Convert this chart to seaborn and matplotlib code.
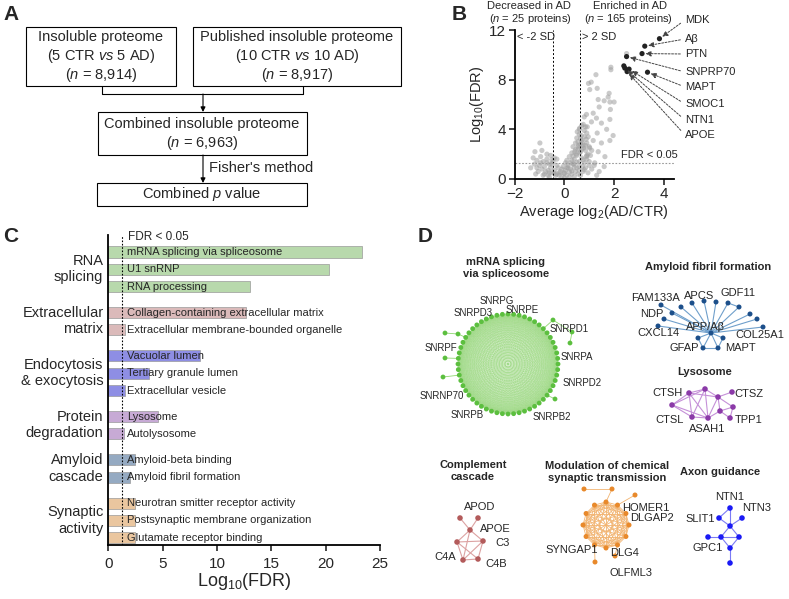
import itertools

import numpy as np
import pandas as pd
import seaborn as sns
from matplotlib import pyplot as plt
from matplotlib.collections import LineCollection
from matplotlib.patches import Rectangle

sns.set_style("white")
plt.rcParams["font.family"] = ["Liberation Sans", "DejaVu Sans"]
plt.rcParams["mathtext.fontset"] = "custom"
plt.rcParams["mathtext.rm"] = "Liberation Sans"
plt.rcParams["mathtext.it"] = "Liberation Sans:italic"
plt.rcParams["mathtext.bf"] = "Liberation Sans:bold"

# ---- B: volcano ----
gray_x = [-1.18, -0.98, -1.25, -1.10, -0.95, -0.85, -1.20, -1.00, -0.80, -0.70, -0.60, -0.90,
          -0.75, -0.55, -0.50, -0.65, -0.40, -0.35, -1.05, -0.85, -0.60, -0.45, -0.30, -0.20,
          -0.25, -1.35, -0.70, -0.55, -0.40, -0.95, -0.65, -0.30, -1.10, -0.50,
          -0.10, 0.00, 0.10, 0.20, 0.30, -0.15, 0.05, 0.25, 0.40, 0.45, -0.05, 0.15, 0.35,
          0.50, 0.55, 0.65, 0.75, 0.85, 0.95, 1.10, 1.20, 1.40, 1.60, 1.30, 0.00, 0.30, 0.60,
          0.10, 0.20, 0.30, 0.40, 0.50, 0.60, 0.70, 0.80, 0.90, 1.00, 0.35, 0.45, 0.55, 0.65,
          0.75, 0.85, 0.95, 1.05, 0.50, 0.60, 0.70, 0.80, 0.90, 1.00, 0.60, 0.70, 0.80, 0.90,
          0.65, 0.55, 0.42, 0.25, 0.15, 0.72, 1.10, 0.85, 0.48, 0.58, 0.68, 0.78, 0.38, 0.88,
          -0.80, -0.60, -0.40, -0.20, 0.00, 0.20, 0.40, 0.60, 0.80, 1.00, -0.70, -0.50, -0.30,
          -0.10, 0.10, 0.30, 0.50, 0.70, 0.90, -0.90, -1.15, 0.05, 0.35, 0.55, 0.75, 0.45,
          0.65, 0.85, 0.52, 0.62, 0.72,
          1.27, 0.97, 1.08, 1.32, 1.02, 1.80, 1.76, 1.36, 1.60, 1.83, 2.00, 1.40, 1.85, 1.16,
          0.89, 0.80, 1.29, 1.09, 1.49, 1.83, 1.70, 1.96, 1.32, 0.92, 0.76, 0.62, 0.96, 1.16,
          1.49, 1.83, 1.02, 1.36, 1.63, 0.89, 1.22, 1.87, 1.87, 2.50]
gray_y = [2.2, 2.9, 1.7, 1.5, 1.8, 1.4, 1.2, 1.1, 1.0, 1.6, 1.2, 0.8,
          0.6, 0.9, 0.5, 0.3, 0.7, 0.3, 0.6, 0.3, 0.15, 1.4, 1.1, 0.5,
          0.9, 0.9, 2.0, 1.9, 1.7, 1.3, 0.7, 0.4, 0.9, 1.2,
          0.2, 0.1, 0.3, 0.15, 0.4, 0.6, 0.7, 0.8, 0.2, 0.6, 1.0, 1.1, 1.2,
          0.9, 0.4, 0.3, 0.6, 0.9, 0.5, 0.8, 1.1, 0.6, 1.0, 0.3, 0.45, 0.65, 0.7,
          1.5, 1.8, 2.1, 1.6, 1.9, 1.4, 1.7, 1.3, 1.6, 1.4, 2.6, 2.9, 2.4, 2.2,
          2.7, 2.3, 2.0, 1.9, 3.3, 3.6, 3.1, 3.4, 2.9, 2.6, 4.0, 4.3, 3.9, 3.7,
          2.8, 3.0, 2.2, 1.3, 0.9, 1.0, 2.3, 4.2, 2.0, 2.7, 3.5, 2.5, 1.2, 3.2,
          0.4, 0.5, 0.45, 0.3, 0.5, 0.55, 0.95, 1.0, 0.75, 1.1, 1.3, 1.55, 1.6,
          0.8, 0.9, 1.5, 1.35, 2.4, 1.9, 2.3, 0.4, 1.3, 1.85, 2.6, 1.55, 2.35,
          3.25, 2.7, 3.8, 2.1, 2.95,
          8.4, 7.7, 7.8, 7.3, 7.2, 6.9, 6.6, 6.4, 6.3, 6.2, 6.2, 5.8, 5.6, 5.3,
          5.2, 5.0, 4.9, 4.6, 4.5, 4.8, 4.0, 3.5, 3.7, 4.2, 4.4, 4.1, 3.4, 3.1,
          2.9, 3.1, 2.5, 2.2, 1.8, 1.8, 1.3, 9.0, 8.8, 10.1]
hit_names = ["MDK", "Aβ", "PTN", "SNPRP70", "MAPT", "SMOC1", "NTN1", "APOE"]
hit_x = [3.82, 3.23, 3.12, 2.50, 3.34, 2.60, 2.43, 2.52]
hit_y = [11.3, 10.7, 10.1, 9.86, 8.6, 8.85, 8.93, 8.65]
other_dark_x = [2.39]
other_dark_y = [9.11]
hit_label_px = [20, 39, 54, 72, 87, 104, 120, 135]

# ---- C: enrichment ----
go_terms = ["mRNA splicing via spliceosome", "U1 snRNP", "RNA processing",
            "Collagen-containing extracellular matrix", "Extracellular membrane-bounded organelle",
            "Vacuolar lumen", "Tertiary granule lumen", "Extracellular vesicle",
            "Lysosome", "Autolysosome",
            "Amyloid-beta binding", "Amyloid fibril formation",
            "Neurotran smitter receptor activity", "Postsynaptic membrane organization",
            "Glutamate receptor binding"]
go_fdr = [23.3, 20.3, 13.0, 12.7, 1.55, 8.4, 3.75, 1.55, 4.6, 1.4, 2.45, 2.0, 2.45, 2.45, 2.45]
go_group = (["RNA\nsplicing"] * 3 + ["Extracellular\nmatrix"] * 2
            + ["Endocytosis\n& exocytosis"] * 3 + ["Protein\ndegradation"] * 2
            + ["Amyloid\ncascade"] * 2 + ["Synaptic\nactivity"] * 3)
group_colors = {"RNA\nsplicing": "#b5e0a5", "Extracellular\nmatrix": "#e0b5b5",
                "Endocytosis\n& exocytosis": "#8080f2", "Protein\ndegradation": "#c9a3dc",
                "Amyloid\ncascade": "#8da9c9", "Synaptic\nactivity": "#f6c793"}

# ---- D: networks (node positions, pixel units) ----
amy_x = [711, 661, 672, 664, 658, 681, 692, 704, 716, 728, 739, 750, 757, 763, 698, 703, 718, 723]
amy_y = [333, 305, 313, 319, 326, 307, 303, 301, 302, 303, 307, 314, 319, 327, 338, 348, 348, 338]
amy_edges = [(0, i) for i in range(1, 18)] + [(9, 10), (14, 15), (15, 16), (16, 17)]
lyso_x = [689, 705, 718, 732, 672, 692, 708, 720, 730, 733]
lyso_y = [393, 389, 397, 392, 405, 417, 418, 411, 418, 407]
lyso_edges = [(0, 1), (0, 4), (0, 5), (0, 2), (0, 6), (1, 2), (1, 5), (1, 6), (1, 4), (2, 7),
              (2, 6), (2, 3), (4, 5), (4, 6), (5, 6), (6, 7), (7, 8), (7, 9), (9, 8), (2, 9)]
comp_x = [460, 478, 470, 457, 483, 463, 478]
comp_y = [518, 518, 530, 542, 541, 560, 559]
comp_edges = [(0, 2), (1, 2), (2, 3), (2, 4), (2, 5), (3, 4), (3, 5), (3, 6), (4, 5), (4, 6), (5, 6)]
axon_x = [730, 742, 719, 730, 708, 721, 739, 730, 730]
axon_y = [508, 518, 518, 526, 537, 537, 537, 548, 563]
axon_edges = [(0, 3), (1, 3), (2, 0), (2, 3), (3, 5), (3, 6), (4, 5), (5, 6), (5, 7), (6, 7), (7, 8)]
green_pend_x = [553, 572, 570, 445, 458, 445, 443, 555]
green_pend_y = [320, 332, 343, 333, 334, 358, 377, 399]
green_pend_to = [-1, 0, 1, 4, -1, -1, -1, -1]
orange_pend_x = [584, 612, 635, 595, 615]
orange_pend_y = [489, 489, 495, 562, 556]
orange_pend_to = [1, -1, -1, -1, -1]

d_labels = [("SNRPG", 497, 301, 7), ("SNRPE", 522, 310, 7), ("SNRPD3", 473, 313, 7),
            ("SNRPD1", 569, 329, 7), ("SNRPF", 441, 348, 7), ("SNRPA", 577, 357, 7),
            ("SNRPD2", 582, 383, 7), ("SNRNP70", 442, 396, 7), ("SNRPB", 467, 415, 7),
            ("SNRPB2", 552, 417, 7),
            ("FAM133A", 656, 298, 8), ("APCS", 699, 296, 8), ("GDF11", 738, 293, 8),
            ("NDP", 652, 314, 8), ("CXCL14", 658, 333, 8), ("APP/Aβ", 705, 327, 8),
            ("COL25A1", 760, 335, 8), ("GFAP", 684, 348, 8), ("MAPT", 740, 348, 8),
            ("CTSH", 668, 393, 8), ("CTSZ", 749, 394, 8), ("CTSL", 670, 420, 8),
            ("ASAH1", 707, 429, 8), ("TPP1", 749, 420, 8),
            ("APOD", 480, 507, 8), ("APOE", 495, 529, 8), ("C3", 503, 543, 8),
            ("C4A", 445, 557, 8), ("C4B", 496, 564, 8),
            ("HOMER1", 646, 508, 8), ("DLGAP2", 652, 518, 8), ("DLG4", 625, 553, 8),
            ("OLFML3", 631, 573, 8), ("SYNGAP1", 572, 550, 8),
            ("NTN1", 730, 497, 8), ("NTN3", 757, 508, 8), ("SLIT1", 700, 519, 8),
            ("GPC1", 708, 548, 8)]
d_titles = [("mRNA splicing\nvia spliceosome", 506, 268), ("Amyloid fibril formation", 708, 267),
            ("Lysosome", 705, 372), ("Complement\ncascade", 473, 471),
            ("Modulation of chemical\nsynaptic transmission", 607, 472), ("Axon guidance", 720, 472)]


def draw_edges(ax, xs, ys, edges, color, lw, alpha=1.0):
    segs = [[(xs[a], ys[a]), (xs[b], ys[b])] for a, b in edges]
    ax.add_collection(LineCollection(segs, colors=color, linewidths=lw, alpha=alpha, zorder=2))


def draw_net(ax, xs, ys, edges, node_color, edge_color, s=13, lw=0.8, alpha=1.0):
    draw_edges(ax, xs, ys, edges, edge_color, lw, alpha)
    sns.scatterplot(x=xs, y=ys, color=node_color, s=s, edgecolor="none", ax=ax, zorder=3, legend=False)


def ring_with_pendants(cx, cy, r, n, px, py, to):
    ang = np.linspace(0, 2 * np.pi, n, endpoint=False)
    xs = list(cx + r * np.cos(ang))
    ys = list(cy + r * np.sin(ang))
    ring = list(itertools.combinations(range(n), 2))
    pend = []
    for i, (x, y) in enumerate(zip(px, py)):
        if to[i] < 0:
            d = [(x - a) ** 2 + (y - b) ** 2 for a, b in zip(xs[:n], ys[:n])]
            pend.append((n + i, int(np.argmin(d))))
        else:
            pend.append((n + i, n + to[i]))
    return xs + list(px), ys + list(py), ring, pend


fig = plt.figure(figsize=(7.89, 5.99), dpi=100)
ov = fig.add_axes([0, 0, 1, 1])
ov.axis("off")

# ---- panel A: flow chart ----
for x0, y0, x1, y1 in [(26, 27, 176, 86), (193, 27, 401, 86), (98, 112, 307, 155), (97, 183, 307, 206)]:
    ov.add_patch(Rectangle((x0, y0), x1 - x0, y1 - y0, fill=False, edgecolor="black", linewidth=0.8))
fs_a = 10.5
ov.text(101, 37, "Insoluble proteome", ha="center", va="center", fontsize=fs_a)
ov.text(101, 56, "(5 CTR $\\mathit{vs}$ 5 AD)", ha="center", va="center", fontsize=fs_a)
ov.text(101, 75, "($\\mathit{n}$ = 8,914)", ha="center", va="center", fontsize=fs_a)
ov.text(297, 37, "Published insoluble proteome", ha="center", va="center", fontsize=fs_a)
ov.text(297, 56, "(10 CTR $\\mathit{vs}$ 10 AD)", ha="center", va="center", fontsize=fs_a)
ov.text(297, 75, "($\\mathit{n}$ = 8,917)", ha="center", va="center", fontsize=fs_a)
ov.plot([102, 102, 303, 303], [86, 94, 94, 86], color="black", lw=0.8)
ov.annotate("", xy=(203, 112), xytext=(203, 94),
            arrowprops=dict(arrowstyle="-|>", lw=0.8, color="black", mutation_scale=7, shrinkA=0, shrinkB=0))
ov.text(202, 124, "Combined insoluble proteome", ha="center", va="center", fontsize=fs_a)
ov.text(202, 143, "($\\mathit{n}$ = 6,963)", ha="center", va="center", fontsize=fs_a)
ov.annotate("", xy=(203, 183), xytext=(203, 155),
            arrowprops=dict(arrowstyle="-|>", lw=0.8, color="black", mutation_scale=7, shrinkA=0, shrinkB=0))
ov.text(209, 168, "Fisher's method", ha="left", va="center", fontsize=fs_a)
ov.text(202, 194, "Combined $\\mathit{p}$ value", ha="center", va="center", fontsize=fs_a)

for lab, x, y in [("A", 3, 15), ("B", 452, 15), ("C", 3, 237), ("D", 418, 237)]:
    ov.text(x, y, lab, fontsize=15, fontweight="bold", ha="left", va="center")

# ---- panel B text above axes ----
ov.text(529, 6, "Decreased in AD", ha="center", va="center", fontsize=8)
ov.text(530, 18.5, "($\\mathit{n}$ = 25 proteins)", ha="center", va="center", fontsize=8)
ov.text(630, 6, "Enriched in AD", ha="center", va="center", fontsize=8)
ov.text(628, 18.5, "($\\mathit{n}$ = 165 proteins)", ha="center", va="center", fontsize=8)

# ---- panel D networks ----
gx, gy, g_ring, g_pend = ring_with_pendants(508, 364, 50, 56, green_pend_x, green_pend_y, green_pend_to)
draw_edges(ov, gx, gy, g_ring, "#8fd870", 0.2, 0.3)
draw_edges(ov, gx, gy, g_pend, "#8fd870", 0.6)
sns.scatterplot(x=gx, y=gy, color="#5cbf3f", s=12, edgecolor="none", ax=ov, zorder=3, legend=False)
ox, oy, o_ring, o_pend = ring_with_pendants(606, 525, 23, 12, orange_pend_x, orange_pend_y, orange_pend_to)
draw_net(ov, ox, oy, o_ring + o_pend, "#e8892b", "#f2b471", s=13, lw=0.6)
draw_net(ov, amy_x, amy_y, amy_edges, "#1c4f8a", "#6f9fcb", s=13, lw=0.8)
draw_net(ov, lyso_x, lyso_y, lyso_edges, "#8b3aa8", "#c590d8", s=16, lw=0.8)
draw_net(ov, comp_x, comp_y, comp_edges, "#b35b5b", "#dca2a2", s=16, lw=0.8)
draw_net(ov, axon_x, axon_y, axon_edges, "#1a1af5", "#7b7bf5", s=16, lw=0.8)
for txt, x, y, fs in d_labels:
    ov.text(x, y, txt, ha="center", va="center", fontsize=fs, zorder=4)
for txt, x, y in d_titles:
    ov.text(x, y, txt, ha="center", va="center", fontsize=8, fontweight="bold", linespacing=1.15)

ov.set_xlim(0, 789)
ov.set_ylim(599, 0)

# ---- panel B axes ----
axb = fig.add_axes([514.5 / 789, (599 - 179) / 599, 159.4 / 789, 149 / 599])
axb.set_facecolor("none")
sns.scatterplot(x=gray_x, y=gray_y, color="#a0a0a0", alpha=0.55, s=14, edgecolor="none", ax=axb)
sns.scatterplot(x=hit_x + other_dark_x, y=hit_y + other_dark_y, color="#222222", s=14,
                edgecolor="none", ax=axb, zorder=3)
axb.axvline(-0.45, color="black", ls=(0, (2, 2)), lw=0.7)
axb.axvline(0.62, color="black", ls=(0, (2, 2)), lw=0.7)
axb.axhline(1.31, color="#999999", ls=(0, (1.5, 1.5)), lw=0.8)
axb.text(-1.9, 11.4, "< -2 SD", ha="left", va="center", fontsize=8)
axb.text(0.72, 11.4, "> 2 SD", ha="left", va="center", fontsize=8)
axb.text(4.56, 1.95, "FDR < 0.05", ha="right", va="center", fontsize=8, clip_on=False)
for name, x, y, py in zip(hit_names, hit_x, hit_y, hit_label_px):
    axb.annotate(name, xy=(x, y), xycoords="data", xytext=(685, 599 - py), textcoords="figure pixels",
                 ha="left", va="center", fontsize=8, annotation_clip=False,
                 arrowprops=dict(arrowstyle="-|>", ls=(0, (2, 1.5)), lw=0.7, color="#444444",
                                 shrinkA=1, shrinkB=2.5, relpos=(0, 0.5), mutation_scale=8))
axb.set_xlim(-2, 4.4)
axb.set_ylim(0, 12)
axb.set_xticks([-2, 0, 2, 4])
axb.set_yticks([0, 4, 8, 12])
axb.tick_params(labelsize=11, length=4, width=1.2, direction="out", bottom=True, left=True, pad=2)
sns.despine(ax=axb)
for sp in ("left", "bottom"):
    axb.spines[sp].set_linewidth(1.3)
    axb.spines[sp].set_color("black")
axb.set_xlabel("Average log$_2$(AD/CTR)", fontsize=10.5, labelpad=1)
axb.set_ylabel("Log$_{10}$(FDR)", fontsize=10.5, labelpad=2)

# ---- panel C axes ----
bar_pos = []
pos = 252.0
for i, g in enumerate(go_group):
    if i > 0:
        pos += 17.3 if g == go_group[i - 1] else 26.0
    bar_pos.append(pos)
df = pd.DataFrame({"term": go_terms, "fdr": go_fdr, "group": go_group, "pos": bar_pos})

axc = fig.add_axes([108.3 / 789, (599 - 545) / 599, (380 - 108.3) / 789, 310 / 599])
axc.set_facecolor("none")
sns.barplot(data=df, x="fdr", y="pos", hue="group", palette=group_colors, orient="h",
            native_scale=True, dodge=False, width=0.64, errorbar=None, edgecolor="#9a9a9a",
            linewidth=0.5, legend=False, ax=axc)
axc.axvline(1.3, color="black", ls=(0, (1.5, 1.5)), lw=0.8)
axc.text(1.8, 237, "FDR < 0.05", ha="left", va="center", fontsize=8.5)
for term, p in zip(go_terms, bar_pos):
    axc.text(1.7, p, term, ha="left", va="center", fontsize=8)
for g in group_colors:
    gp = df.loc[df["group"] == g, "pos"].mean()
    axc.text(-0.45, gp, g, ha="right", va="center", fontsize=10.5, clip_on=False)
axc.set_xlim(0, 25)
axc.set_ylim(545, 235)
axc.set_yticks([])
axc.set_xticks([0, 5, 10, 15, 20, 25])
axc.tick_params(axis="x", labelsize=11, length=4, width=1.2, direction="out", bottom=True, pad=5)
sns.despine(ax=axc)
for sp in ("left", "bottom"):
    axc.spines[sp].set_linewidth(1.3)
    axc.spines[sp].set_color("black")
axc.set_xlabel("Log$_{10}$(FDR)", fontsize=13, labelpad=0)
axc.set_ylabel("")

fig.savefig("out.png", dpi=100)
